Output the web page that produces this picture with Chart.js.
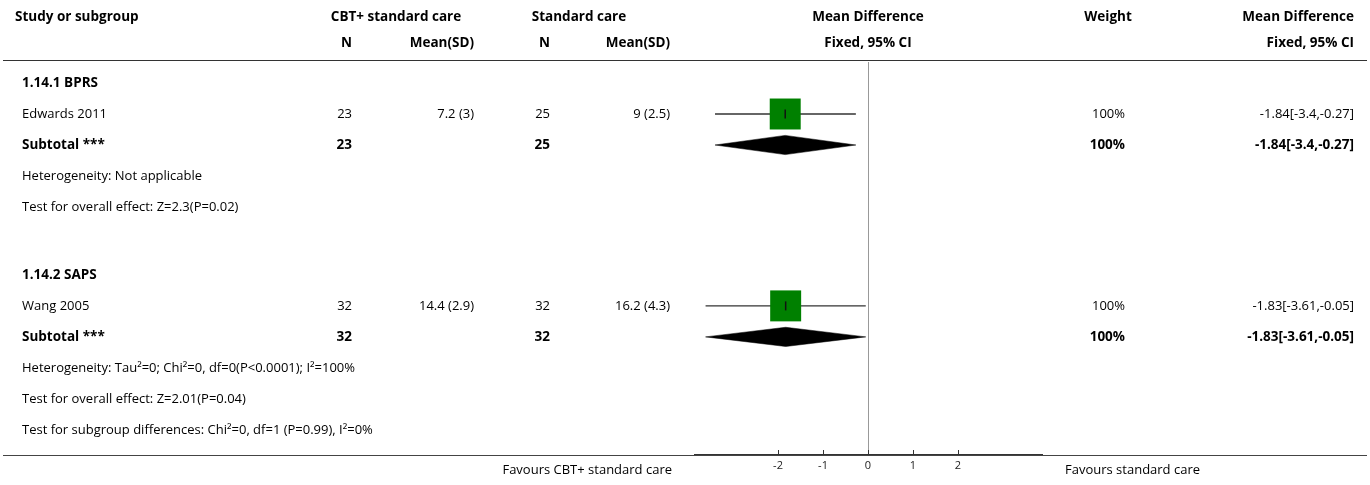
<!DOCTYPE html>
<html>
<head>
<meta charset="utf-8">
<script src="https://cdn.jsdelivr.net/npm/chart.js@4.4.1/dist/chart.umd.min.js"></script>
<style>
  html, body { margin: 0; padding: 0; background: #fff; }
  canvas { display: block; }
</style>
</head>
<body>
<canvas id="c" width="1370" height="485"></canvas>
<script>
// ---------------- data ----------------
const groupLabels = ['1.14.1 BPRS', '1.14.2 SAPS'];
const studyNames = ['Edwards 2011', 'Wang 2005'];
const nCBT = [23, 32];
const meanSdCBT = ['7.2 (3)', '14.4 (2.9)'];
const nStd = [25, 32];
const meanSdStd = ['9 (2.5)', '16.2 (4.3)'];
const studyMD = [-1.84, -1.83];
const studyLow = [-3.4, -3.61];
const studyHigh = [-0.27, -0.05];
const studyWeight = ['100%', '100%'];
const subtotalN1 = [23, 32];
const subtotalN2 = [25, 32];
const subtotalMD = [-1.84, -1.83];
const subtotalLow = [-3.4, -3.61];
const subtotalHigh = [-0.27, -0.05];
const subtotalWeight = ['100%', '100%'];
const heterogeneity = ['Heterogeneity: Not applicable', 'Heterogeneity: Tau\u00B2=0; Chi\u00B2=0, df=0(P<0.0001); I\u00B2=100%'];
const overallEffect = ['Test for overall effect: Z=2.3(P=0.02)', 'Test for overall effect: Z=2.01(P=0.04)'];
const subgroupTest = 'Test for subgroup differences: Chi\u00B2=0, df=1 (P=0.99), I\u00B2=0%';
const tickValues = [-2, -1, 0, 1, 2];
const favoursLeft = 'Favours CBT+ standard care';
const favoursRight = 'Favours standard care';

// ---------------- layout (row units) ----------------
const groupStartRow = [0, 6.19];
const subgroupTestRow = 11.19;
const headerRows = [-2.13, -1.29];
const diamondHalf = 0.31;
const FONT = '"Open Sans"';
const FSIZE = '13px ';
const FSIZE_B = '13.5px ';

function fmtCI(m, l, h) { return m + '[' + l + ',' + h + ']'; }

const datasets = [];
groupLabels.forEach((g, i) => {
  const rs = groupStartRow[i] + 1;
  const rt = groupStartRow[i] + 2;
  datasets.push({
    type: 'scatter', showLine: true, data: [{x: studyLow[i], y: rs}, {x: studyHigh[i], y: rs}],
    borderColor: '#333', borderWidth: 1.3, pointRadius: 0, order: 3
  });
  datasets.push({
    type: 'scatter', showLine: true, fill: 'shape', tension: 0,
    data: [
      {x: subtotalLow[i], y: rt}, {x: subtotalMD[i], y: rt - diamondHalf},
      {x: subtotalHigh[i], y: rt}, {x: subtotalMD[i], y: rt + diamondHalf},
      {x: subtotalLow[i], y: rt}
    ],
    borderColor: '#000', borderWidth: 0.5, backgroundColor: '#000', pointRadius: 0, order: 3
  });
});
datasets.push({
  type: 'scatter', data: studyMD.map((m, i) => ({x: m, y: groupStartRow[i] + 1})),
  pointStyle: 'rect', pointRadius: 21.9, backgroundColor: '#008000', borderWidth: 0, order: 2
});
datasets.push({
  type: 'scatter', data: studyMD.map((m, i) => ({x: m, y: groupStartRow[i] + 1})),
  pointStyle: 'line', rotation: 90, pointRadius: 4.5, borderColor: '#111', borderWidth: 1.5, order: 1
});

const tablePlugin = {
  id: 'table',
  beforeDatasetsDraw(chart) {
    const {ctx, scales: {x}} = chart;
    ctx.save();
    ctx.strokeStyle = '#999';
    ctx.lineWidth = 1;
    ctx.beginPath();
    const zx = Math.round(x.getPixelForValue(0)) + 0.5;
    ctx.moveTo(zx, 62);
    ctx.lineTo(zx, chart.chartArea.bottom);
    ctx.stroke();
    ctx.restore();
  },
  afterDraw(chart) {
    const {ctx, scales: {x, y}} = chart;
    const bottom = chart.chartArea.bottom;
    ctx.save();
    ctx.strokeStyle = '#333';
    ctx.lineWidth = 1;
    ctx.beginPath(); ctx.moveTo(3, 60.5); ctx.lineTo(1367, 60.5); ctx.stroke();
    ctx.strokeStyle = '#444';
    ctx.beginPath(); ctx.moveTo(3, bottom + 0.5); ctx.lineTo(1367, bottom + 0.5); ctx.stroke();
    ctx.strokeStyle = '#333';
    tickValues.forEach(v => {
      const px = Math.round(x.getPixelForValue(v)) + 0.5;
      ctx.beginPath(); ctx.moveTo(px, bottom - 5); ctx.lineTo(px, bottom); ctx.stroke();
    });

    const T = (txt, px, row, align, bold) => {
      ctx.font = (bold ? 'bold ' + FSIZE_B : FSIZE) + FONT;
      ctx.fillStyle = '#000';
      ctx.textAlign = align;
      ctx.textBaseline = 'middle';
      ctx.fillText(txt, px, y.getPixelForValue(row));
    };
    const h1 = headerRows[0], h2 = headerRows[1];
    T('Study or subgroup', 15, h1, 'left', true);
    T('CBT+ standard care', 396, h1, 'center', true);
    T('Standard care', 579, h1, 'center', true);
    T('Mean Difference', 868, h1, 'center', true);
    T('Weight', 1108, h1, 'center', true);
    T('Mean Difference', 1354, h1, 'right', true);
    T('N', 352, h2, 'right', true);
    T('Mean(SD)', 474, h2, 'right', true);
    T('N', 550, h2, 'right', true);
    T('Mean(SD)', 670, h2, 'right', true);
    T('Fixed, 95% CI', 868, h2, 'center', true);
    T('Fixed, 95% CI', 1354, h2, 'right', true);

    groupLabels.forEach((g, i) => {
      const r0 = groupStartRow[i];
      T(g, 22, r0, 'left', true);
      T(studyNames[i], 22, r0 + 1, 'left', false);
      T(String(nCBT[i]), 352, r0 + 1, 'right', false);
      T(meanSdCBT[i], 474, r0 + 1, 'right', false);
      T(String(nStd[i]), 550, r0 + 1, 'right', false);
      T(meanSdStd[i], 670, r0 + 1, 'right', false);
      T(studyWeight[i], 1125, r0 + 1, 'right', false);
      T(fmtCI(studyMD[i], studyLow[i], studyHigh[i]), 1354, r0 + 1, 'right', false);
      T('Subtotal ***', 22, r0 + 2, 'left', true);
      T(String(subtotalN1[i]), 352, r0 + 2, 'right', true);
      T(String(subtotalN2[i]), 550, r0 + 2, 'right', true);
      T(subtotalWeight[i], 1125, r0 + 2, 'right', true);
      T(fmtCI(subtotalMD[i], subtotalLow[i], subtotalHigh[i]), 1354, r0 + 2, 'right', true);
      T(heterogeneity[i], 22, r0 + 3, 'left', false);
      T(overallEffect[i], 22, r0 + 4, 'left', false);
    });
    T(subgroupTest, 22, subgroupTestRow, 'left', false);

    ctx.font = FSIZE + FONT;
    ctx.fillStyle = '#000';
    ctx.textBaseline = 'middle';
    ctx.textAlign = 'right';
    ctx.fillText(favoursLeft, 672, 470);
    ctx.textAlign = 'left';
    ctx.fillText(favoursRight, 1065, 470);
    ctx.restore();
  }
};

new Chart(document.getElementById('c'), {
  type: 'scatter',
  data: { datasets },
  options: {
    responsive: false,
    animation: false,
    devicePixelRatio: 1,
    layout: { autoPadding: false, padding: { left: 695, right: 328, top: 0, bottom: 0 } },
    plugins: { legend: { display: false }, tooltip: { enabled: false } },
    elements: { line: { tension: 0 } },
    scales: {
      x: {
        type: 'linear', min: -3.845, max: 3.867,
        afterBuildTicks: (s) => { s.ticks = tickValues.map(v => ({ value: v })); },
        afterFit: (s) => { s.height = 30; },
        grid: { display: false, drawTicks: false },
        border: { display: true, color: '#333', width: 2 },
        ticks: { font: { family: 'Open Sans', size: 11 }, color: '#222', padding: 4, maxRotation: 0 }
      },
      y: {
        type: 'linear', reverse: true, min: -83 / 31, max: 12, display: false
      }
    }
  },
  plugins: [tablePlugin]
});
</script>
</body>
</html>
